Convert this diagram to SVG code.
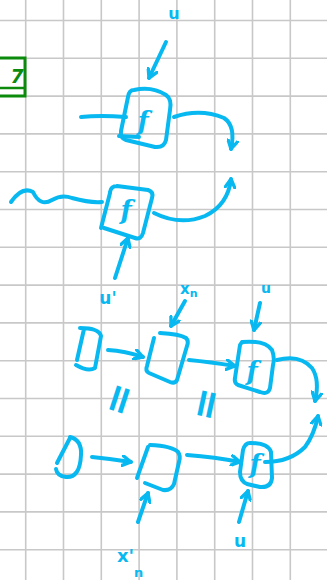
<svg xmlns="http://www.w3.org/2000/svg" width="327" height="580" viewBox="0 0 327 580">
<style>
.grid line{stroke:#c8c8c8;stroke-width:1.6}
.ink{fill:none;stroke:#08b8f0;stroke-width:4;stroke-linecap:round;stroke-linejoin:round}
.lbl{fill:#08b8f0;font-family:"DejaVu Sans",sans-serif;font-weight:bold}
.fn{fill:#08b8f0;font-family:"DejaVu Serif",serif;font-style:italic;font-weight:bold;font-size:26px;text-anchor:middle}
.eq{fill:#08b8f0;font-family:"DejaVu Sans",sans-serif;font-weight:bold;font-size:40px;text-anchor:middle}
</style>
<defs>
<marker id="ah" viewBox="0 0 10 10" refX="8" refY="5" markerWidth="12" markerHeight="12" markerUnits="userSpaceOnUse" orient="auto">
<path d="M1,1 L8,5 L1,9" fill="none" stroke="#08b8f0" stroke-width="2.8" stroke-linecap="round" stroke-linejoin="round"/>
</marker>
</defs>
<rect width="327" height="580" fill="#ffffff"/>
<g class="grid">
<line x1="25.7" y1="0" x2="25.7" y2="580"/><line x1="63.5" y1="0" x2="63.5" y2="580"/><line x1="101.3" y1="0" x2="101.3" y2="580"/><line x1="139.1" y1="0" x2="139.1" y2="580"/><line x1="176.9" y1="0" x2="176.9" y2="580"/><line x1="214.7" y1="0" x2="214.7" y2="580"/><line x1="252.5" y1="0" x2="252.5" y2="580"/><line x1="290.3" y1="0" x2="290.3" y2="580"/>
<line x1="0" y1="20.5" x2="327" y2="20.5"/><line x1="0" y1="58.3" x2="327" y2="58.3"/><line x1="0" y1="96.1" x2="327" y2="96.1"/><line x1="0" y1="133.9" x2="327" y2="133.9"/><line x1="0" y1="171.7" x2="327" y2="171.7"/><line x1="0" y1="209.5" x2="327" y2="209.5"/><line x1="0" y1="247.3" x2="327" y2="247.3"/><line x1="0" y1="285.1" x2="327" y2="285.1"/><line x1="0" y1="322.9" x2="327" y2="322.9"/><line x1="0" y1="360.7" x2="327" y2="360.7"/><line x1="0" y1="398.5" x2="327" y2="398.5"/><line x1="0" y1="436.3" x2="327" y2="436.3"/><line x1="0" y1="474.1" x2="327" y2="474.1"/><line x1="0" y1="511.9" x2="327" y2="511.9"/><line x1="0" y1="549.7" x2="327" y2="549.7"/>
</g>
<g id="green-box">
<rect x="-4" y="58" width="29" height="38" fill="none" stroke="#0b8a0b" stroke-width="3"/>
<line x1="0" y1="88" x2="24" y2="88" stroke="#0b8a0b" stroke-width="2.5"/>
<text x="17" y="83" fill="#0b8a0b" font-family="DejaVu Sans,sans-serif" font-size="19" font-weight="bold" font-style="italic" text-anchor="middle">7</text>
</g>
<g id="connectors">
<path class="ink" d="M166,42 L149,78" marker-end="url(#ah)"/>
<path class="ink" d="M81,117 Q100,115 126,117"/>
<path class="ink" d="M174,117 Q200,108 224,118 Q236,126 231,149" marker-end="url(#ah)"/>
<path class="ink" d="M11,202 Q22,186 33,192 Q40,207 52,200 Q62,194 72,198 Q90,203 102,202"/>
<path class="ink" d="M154,213 Q180,226 205,216 Q228,205 231,179" marker-end="url(#ah)"/>
<path class="ink" d="M115,278 L128,238" marker-end="url(#ah)"/>
<path class="ink" d="M108,350 Q125,351 143,357" marker-end="url(#ah)"/>
<path class="ink" d="M185,301 L171,326" marker-end="url(#ah)"/>
<path class="ink" d="M189,360 Q210,362 235,366" marker-end="url(#ah)"/>
<path class="ink" d="M260,303 L254,330" marker-end="url(#ah)"/>
<path class="ink" d="M277,360 Q300,354 312,368 Q320,380 315,401" marker-end="url(#ah)"/>
<path class="ink" d="M92,457 Q112,459 131,462" marker-end="url(#ah)"/>
<path class="ink" d="M138,522 L148,493" marker-end="url(#ah)"/>
<path class="ink" d="M187,455 Q215,457 240,462" marker-end="url(#ah)"/>
<path class="ink" d="M239,522 L248,491" marker-end="url(#ah)"/>
<path class="ink" d="M265,462 Q290,462 305,447 Q314,435 318,416" marker-end="url(#ah)"/>
</g>
<g id="f-top">
<path class="ink" d="M134,90 Q152,86 166,95 Q172,99 170,110 L166,140 Q164,148 155,147 L126,140 Q120,138 121,131 L128,97 Q129,90 134,90 Z"/>
<line class="ink" x1="119" y1="136" x2="139" y2="137"/>
<text class="fn" x="143" y="130">f</text>
<text class="lbl" x="174" y="19" font-size="16" text-anchor="middle">u</text>
</g>
<g id="f-middle">
<path class="ink" d="M117,186 L148,190 Q154,192 152,198 L143,233 Q141,240 135,238 L104,228 M110,192 Q111,186 117,186"/>
<line class="ink" x1="101" y1="228" x2="110" y2="193"/>
<text class="fn" x="126" y="219">f</text>
<text class="lbl" x="108" y="304" font-size="17" text-anchor="middle">u'</text>
</g>
<g id="d-top">
<path class="ink" d="M80,328 Q99,328 101,336 L95,368 Q88,372 76,365 M84,329 L77,360"/>
</g>
<g id="box-top">
<path class="ink" d="M160,333 Q180,334 186,338 Q189,341 187,346 L177,380 Q175,384 170,382 L149,373 Q145,371 147,366 L154,338"/>
<text class="lbl" x="180" y="294" font-size="15">x<tspan font-size="11" dy="3">n</tspan></text>
</g>
<g id="f-right-top">
<path class="ink" d="M242,342 Q265,340 272,350 Q275,358 273,365 L270,388 Q268,395 260,392 L238,385 Q234,383 235,378 L240,345 Z"/>
<text class="fn" x="252" y="380" font-size="24">f</text>
<text class="lbl" x="266" y="293" font-size="14" text-anchor="middle">u</text>
</g>
<g id="equals">
<text class="eq" transform="translate(118,399) rotate(-72)" y="14">=</text>
<text class="eq" transform="translate(205,404) rotate(-78)" y="14">=</text>
</g>
<g id="d-bottom">
<path class="ink" d="M70,437 Q82,440 81,455 Q80,478 66,477 Q57,476 56,469 M70,438 L57,463"/>
</g>
<g id="box-bottom">
<path class="ink" d="M150,445 Q172,446 178,452 Q181,456 179,462 L174,484 Q171,491 163,490 L145,483 M148,447 L137,478"/>
<text class="lbl" x="117" y="562" font-size="18">x'</text>
<text class="lbl" x="134" y="577" font-size="13">n</text>
</g>
<g id="f-right-bottom">
<path class="ink" d="M250,443 Q268,443 271,452 L272,478 Q271,488 260,487 L247,484 Q240,481 240,472 L243,450 Q245,443 250,443 Z"/>
<text class="fn" x="255" y="473" font-size="22">f</text>
<text class="lbl" x="240" y="547" font-size="17" text-anchor="middle">u</text>
</g>
</svg>
